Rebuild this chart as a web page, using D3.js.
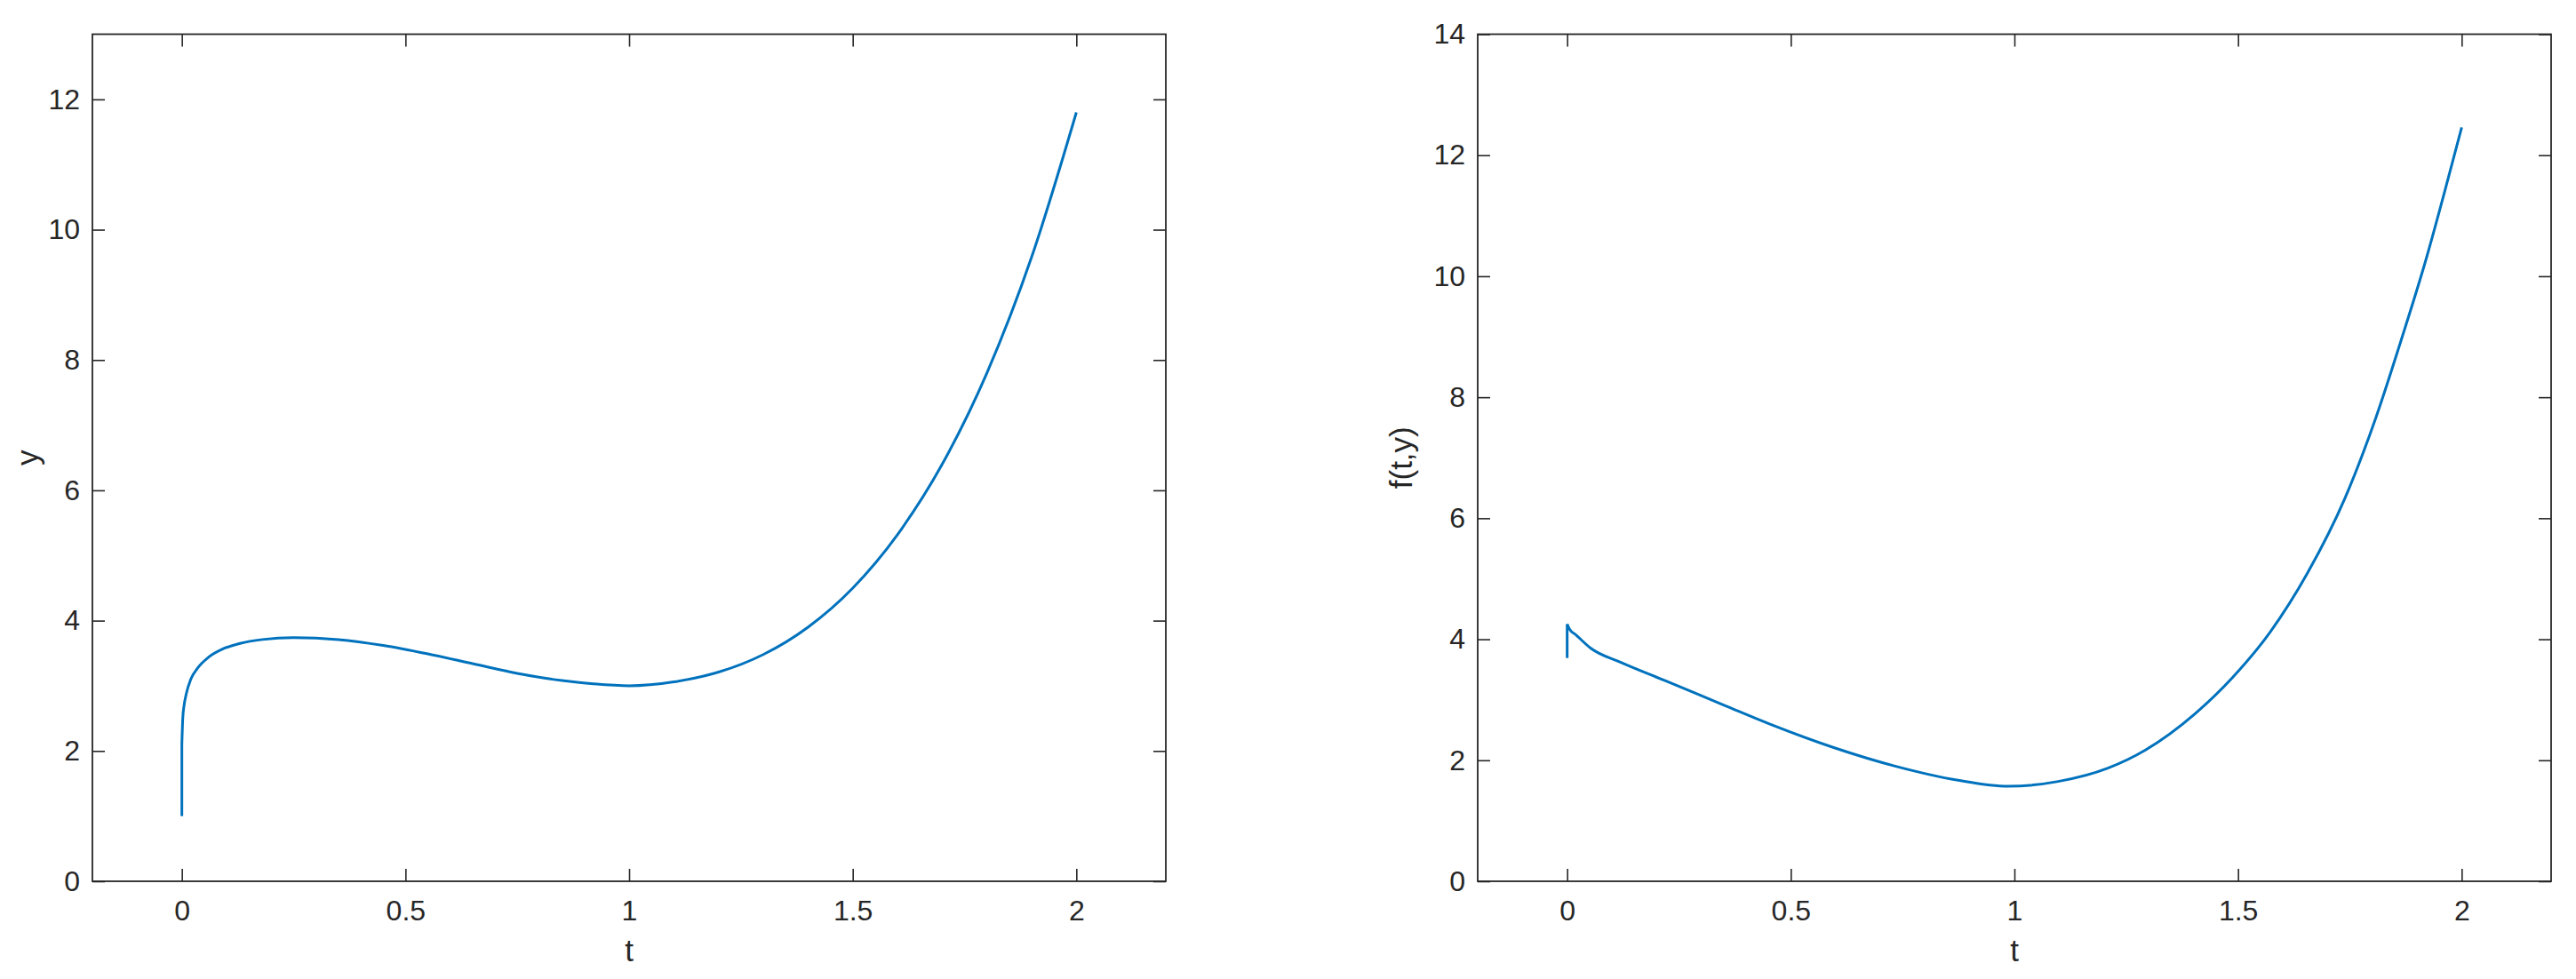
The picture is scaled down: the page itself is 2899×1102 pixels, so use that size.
<!DOCTYPE html>
<html>
<head>
<meta charset="utf-8">
<script src="https://cdn.jsdelivr.net/npm/d3@7"></script>
<style>
  html, body { margin: 0; padding: 0; background: #fff; }
  svg { display: block; }
  text { font-family: "Liberation Sans", Arial, Helvetica, sans-serif; fill: #262626; }
</style>
</head>
<body>
<svg id="chart" width="2899" height="1102"></svg>
<script>
// ---- data ----
const tLeft = [0, 0, 0.002, 0.005, 0.01, 0.02, 0.035, 0.06, 0.09, 0.13, 0.18, 0.25, 0.35, 0.45, 0.55, 0.65, 0.75, 0.85, 0.92, 1.0, 1.1, 1.2, 1.3, 1.4, 1.5, 1.6, 1.7, 1.8, 1.9, 2.0];
const yLeft = [1.0, 2.1, 2.5, 2.7, 2.88, 3.1, 3.27, 3.44, 3.56, 3.65, 3.71, 3.74, 3.71, 3.62, 3.49, 3.34, 3.19, 3.08, 3.03, 3.00, 3.06, 3.21, 3.48, 3.90, 4.50, 5.32, 6.40, 7.80, 9.58, 11.80];

const tRight = [0, 0, 0.005, 0.02, 0.053, 0.119, 0.219, 0.351, 0.456, 0.596, 0.735, 0.874, 0.986, 1.098, 1.209, 1.293, 1.404, 1.488, 1.572, 1.655, 1.739, 1.809, 1.865, 1.92, 1.962, 2.0];
const fRight = [3.69, 4.25, 4.17, 4.07, 3.85, 3.62, 3.315, 2.91, 2.59, 2.21, 1.90, 1.67, 1.57, 1.65, 1.87, 2.17, 2.77, 3.37, 4.12, 5.09, 6.33, 7.68, 8.95, 10.27, 11.40, 12.46];

const xTicks = [0, 0.5, 1, 1.5, 2];
const xTickLabels = ["0", "0.5", "1", "1.5", "2"];
const yTicksLeft = [0, 2, 4, 6, 8, 10, 12];
const yTicksRight = [0, 2, 4, 6, 8, 10, 12, 14];

const panels = [
  { left: 104, right: 1312, top: 38.5, bottom: 992, xDomain: [-0.2, 2.2], yDomain: [0, 13],
    t: tLeft, v: yLeft, yTicks: yTicksLeft, xLabel: "t", yLabel: "y", yLabelX: 31 },
  { left: 1663, right: 2871, top: 38.5, bottom: 992, xDomain: [-0.2, 2.2], yDomain: [0, 14],
    t: tRight, v: fRight, yTicks: yTicksRight, xLabel: "t", yLabel: "f(t,y)", yLabelX: 1577 }
];

const svg = d3.select("#chart");
const axisColor = "#262626";
const tickLen = 14;

panels.forEach(p => {
  const x = d3.scaleLinear().domain(p.xDomain).range([p.left, p.right]);
  const y = d3.scaleLinear().domain(p.yDomain).range([p.bottom, p.top]);
  const g = svg.append("g");

  // curve: initial vertical jump (linear) + smooth remainder
  const pts = p.t.map((t, i) => [t, p.v[i]]);
  const lineLin = d3.line().x(d => x(d[0])).y(d => y(d[1]));
  const lineSmooth = d3.line().x(d => x(d[0])).y(d => y(d[1])).curve(d3.curveMonotoneX);
  [[pts.slice(0, 2), lineLin], [pts.slice(1), lineSmooth]].forEach(([data, gen]) => {
    g.append("path")
      .datum(data)
      .attr("fill", "none")
      .attr("stroke", "#0072BD")
      .attr("stroke-width", 3)
      .attr("stroke-linejoin", "round")
      .attr("d", gen);
  });

  // axes
  const fmt = d => xTickLabels[xTicks.indexOf(d)];
  const bottomAx = g.append("g").attr("transform", `translate(0,${p.bottom})`)
    .call(d3.axisBottom(x).tickValues(xTicks).tickFormat(fmt).tickSize(-tickLen).tickPadding(21));
  const topAx = g.append("g").attr("transform", `translate(0,${p.top})`)
    .call(d3.axisTop(x).tickValues(xTicks).tickFormat("").tickSize(-tickLen));
  const leftAx = g.append("g").attr("transform", `translate(${p.left},0)`)
    .call(d3.axisLeft(y).tickValues(p.yTicks).tickFormat(d3.format("d")).tickSize(-tickLen).tickPadding(14));
  const rightAx = g.append("g").attr("transform", `translate(${p.right},0)`)
    .call(d3.axisRight(y).tickValues(p.yTicks).tickFormat("").tickSize(-tickLen));

  [bottomAx, topAx, leftAx, rightAx].forEach(a => {
    a.select(".domain").remove();
    a.selectAll(".tick line").attr("stroke", axisColor).attr("stroke-width", 1.6);
    a.selectAll(".tick text").attr("fill", axisColor).style("font-size", "32px");
  });

  // box
  g.append("rect")
    .attr("x", p.left).attr("y", p.top)
    .attr("width", p.right - p.left).attr("height", p.bottom - p.top)
    .attr("fill", "none").attr("stroke", axisColor).attr("stroke-width", 1.8);

  // axis labels
  g.append("text")
    .attr("x", (p.left + p.right) / 2).attr("y", 1082)
    .attr("text-anchor", "middle")
    .style("font-size", "35px")
    .text(p.xLabel);
  g.append("text")
    .attr("transform", `translate(${p.yLabelX},${(p.top + p.bottom) / 2}) rotate(-90)`)
    .attr("text-anchor", "middle")
    .attr("dy", "0.35em")
    .style("font-size", "35px")
    .text(p.yLabel);
});
</script>
</body>
</html>
